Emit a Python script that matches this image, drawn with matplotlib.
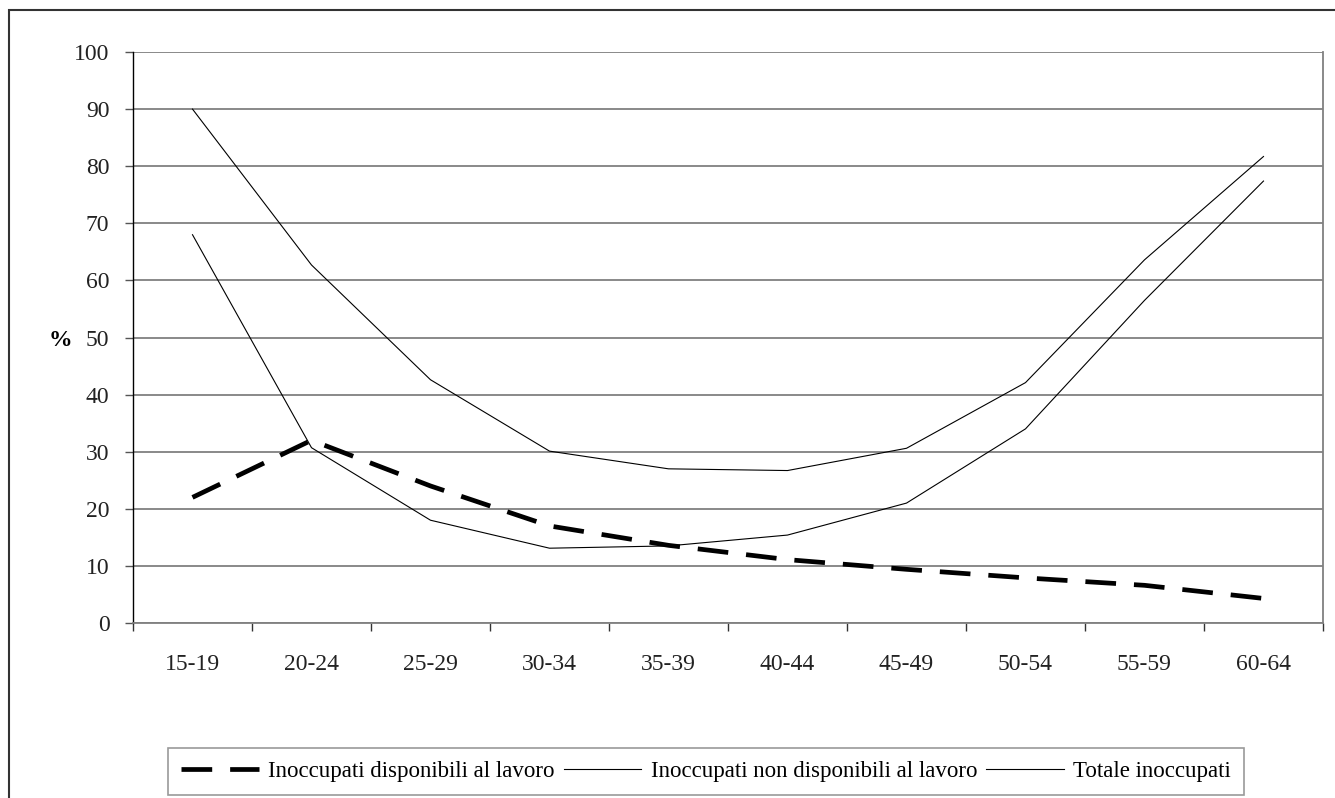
import matplotlib
matplotlib.use("Agg")
import matplotlib.pyplot as plt
from matplotlib.patches import Rectangle

categories = ["15-19", "20-24", "25-29", "30-34", "35-39", "40-44", "45-49", "50-54", "55-59", "60-64"]
disponibili = [22.0, 32.0, 24.0, 17.0, 13.6, 11.1, 9.4, 7.9, 6.6, 4.3]
non_disponibili = [68.0, 30.7, 18.0, 13.1, 13.5, 15.4, 21.0, 34.0, 56.5, 77.4]
totale = [90.0, 62.7, 42.6, 30.1, 27.0, 26.7, 30.6, 42.1, 63.6, 81.7]
series_names = ["Inoccupati disponibili al lavoro", "Inoccupati non disponibili al lavoro", "Totale inoccupati"]
y_ticks = list(range(0, 101, 10))

plt.rcParams['font.family'] = ['Liberation Serif', 'DejaVu Serif']

W, H = 1335, 798
fig = plt.figure(figsize=(W / 100, H / 100), dpi=100)
left, right, top, bottom = 133, 1323, 52, 623
ax = fig.add_axes([left / W, 1 - bottom / H, (right - left) / W, (bottom - top) / H])

x = list(range(len(categories)))
ax.plot(x, disponibili, color='black', lw=3.4, linestyle=(0, (6.5, 3.8)), label=series_names[0], zorder=3)
ax.plot(x, non_disponibili, color='black', lw=0.8, label=series_names[1], zorder=3)
ax.plot(x, totale, color='black', lw=0.8, label=series_names[2], zorder=3)

ax.set_xlim(-0.5, len(categories) - 0.5)
ax.set_ylim(0, 100)
ax.set_yticks(y_ticks)
ax.set_yticklabels([str(v) for v in y_ticks], fontsize=17, color='#222222')
ax.set_xticks(x)
ax.set_xticklabels(categories, fontsize=17, color='#222222')
ax.set_xticks([i - 0.5 for i in range(len(categories) + 1)], minor=True)
ax.tick_params(axis='x', which='major', length=0, pad=22)
ax.tick_params(axis='x', which='minor', length=6, width=1.0, color='#333333', direction='out')
ax.tick_params(axis='y', which='major', length=6, width=1.0, color='#555555', direction='out', pad=11)

ax.grid(axis='y', color='#808080', lw=1.3, zorder=1)
ax.set_axisbelow(True)
ax.spines['top'].set_visible(False)
ax.spines['left'].set_color('black')
ax.spines['left'].set_linewidth(1.0)
ax.spines['bottom'].set_color('#808080')
ax.spines['bottom'].set_linewidth(1.3)
ax.spines['right'].set_color('#808080')
ax.spines['right'].set_linewidth(1.3)

fig.text(60 / W, 1 - 340 / H, "%", fontsize=17, fontweight='bold', ha='center', va='center')

leg = ax.legend(loc='center', bbox_to_anchor=(706 / W, 1 - 771.5 / H), bbox_transform=fig.transFigure,
                ncol=3, frameon=True, fancybox=False, edgecolor='#808080', fontsize=16.5,
                handlelength=3.4, handletextpad=0.4, columnspacing=0.4, borderpad=0.55)
leg.get_frame().set_linewidth(1.2)

fig.patches.append(Rectangle((9 / W, -0.1), 1.2, 1 - 10 / H + 0.1, transform=fig.transFigure,
                             fill=False, edgecolor='#333333', lw=1.5))

fig.savefig("out.png", dpi=100)
